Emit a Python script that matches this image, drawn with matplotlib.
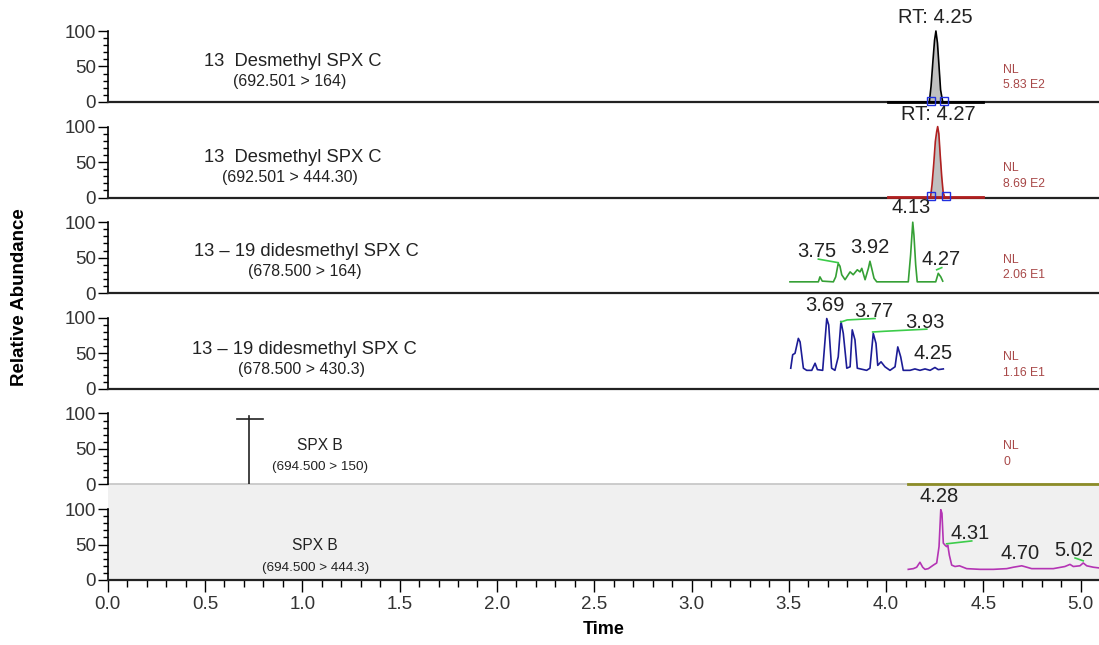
import matplotlib
matplotlib.use("Agg")
import matplotlib.pyplot as plt
from matplotlib.ticker import FixedLocator, MultipleLocator, FormatStrFormatter

plt.rcParams["font.family"] = ["Liberation Sans", "DejaVu Sans"]

# panel texts
titles = ["13  Desmethyl SPX C", "13  Desmethyl SPX C",
          "13 \u2013 19 didesmethyl SPX C", "13 \u2013 19 didesmethyl SPX C",
          "SPX B", "SPX B"]
transitions = ["(692.501 > 164)", "(692.501 > 444.30)", "(678.500 > 164)",
               "(678.500 > 430.3)", "(694.500 > 150)", "(694.500 > 444.3)"]
nl_values = ["5.83 E2", "8.69 E2", "2.06 E1", "1.16 E1", "0", None]

# traces (time in min, relative abundance in %)
t1 = [4.011, 4.222, 4.231, 4.241, 4.249, 4.256, 4.264, 4.272, 4.280, 4.291, 4.50]
a1 = [0, 0, 22, 59, 87, 100, 83, 50, 17, 0, 0]

t2 = [4.011, 4.228, 4.236, 4.245, 4.253, 4.260, 4.265, 4.271, 4.278, 4.286, 4.293, 4.301, 4.50]
a2 = [0, 0, 18, 48, 79, 93, 100, 90, 60, 29, 8, 0, 0]

t3 = [3.506, 3.652, 3.660, 3.672, 3.729, 3.741, 3.754, 3.763, 3.772, 3.789,
      3.815, 3.831, 3.852, 3.866, 3.875, 3.892, 3.909, 3.917, 3.926, 3.938,
      3.952, 4.114, 4.126, 4.137, 4.143, 4.152, 4.160, 4.255, 4.268, 4.281, 4.291]
a3 = [16, 16, 23, 17, 16, 23, 42, 38, 26, 19,
      30, 26, 33, 30, 35, 19, 35, 45, 35, 21,
      16, 16, 54, 100, 82, 40, 16, 16, 28, 23, 17]

t4 = [3.510, 3.520, 3.532, 3.549, 3.558, 3.575, 3.592, 3.618, 3.635, 3.647,
      3.674, 3.695, 3.705, 3.720, 3.737, 3.754, 3.768, 3.780, 3.798, 3.815,
      3.826, 3.840, 3.852, 3.900, 3.917, 3.934, 3.948, 3.957, 3.974, 3.994,
      4.020, 4.046, 4.060, 4.075, 4.088, 4.123, 4.148, 4.174, 4.200, 4.226,
      4.251, 4.268, 4.294]
a4 = [29, 48, 50, 71, 66, 29, 26, 26, 36, 27,
      26, 99, 90, 29, 26, 45, 95, 78, 29, 31,
      83, 69, 29, 26, 29, 78, 64, 33, 38, 31,
      26, 31, 59, 45, 26, 26, 28, 26, 28, 26,
      30, 27, 28]

t5 = [4.113, 5.094]
a5 = [0, 0]
cursor_t = 0.728
cursor_top = 97
cursor_bar = [0.664, 0.798, 92]

t6 = [4.114, 4.140, 4.157, 4.174, 4.188, 4.200, 4.217, 4.243, 4.260, 4.272,
      4.281, 4.287, 4.294, 4.303, 4.311, 4.317, 4.325, 4.337, 4.354, 4.377,
      4.414, 4.483, 4.551, 4.620, 4.654, 4.697, 4.723, 4.748, 4.791, 4.859,
      4.919, 4.945, 4.962, 4.996, 5.013, 5.031, 5.065, 5.094]
a6 = [15, 16, 18, 25, 18, 15, 16, 21, 24, 47,
      99, 94, 52, 49, 47, 49, 35, 21, 19, 20,
      16, 15, 15, 16, 18, 20, 18, 16, 16, 16,
      19, 22, 19, 20, 24, 20, 18, 17]

# peak labels: (text, time, height)
labels = [
    [("RT: 4.25", 4.251, 119)],
    [("RT: 4.27", 4.268, 117)],
    [("3.75", 3.643, 59), ("3.92", 3.914, 64), ("4.13", 4.129, 121), ("4.27", 4.281, 47)],
    [("3.69", 3.687, 118), ("3.77", 3.938, 109), ("3.93", 4.200, 94), ("4.25", 4.239, 50)],
    [],
    [("4.28", 4.273, 118), ("4.31", 4.431, 66), ("4.70", 4.688, 38), ("5.02", 4.962, 41)],
]
leaders = [
    [], [],
    [((3.652, 3.754), (48, 43)), ((4.260, 4.286), (33, 36))],
    [((3.767, 3.800, 3.943), (94, 97, 99)), ((3.931, 3.990, 4.209), (80, 81, 84))],
    [],
    [((4.311, 4.440), (51, 55)), ((4.971, 5.013), (31, 27))],
]
boundary_t = [[4.232, 4.300], [4.231, 4.306]]

traces = [(t1, a1, "black"), (t2, a2, "#b02020"), (t3, a3, "#35a035"),
          (t4, a4, "#1c1c96"), (t5, a5, "#8c8c28"), (t6, a6, "#b434b4")]

W, H = 1099, 645
fig = plt.figure(figsize=(W / 100, H / 100), dpi=100)

x0, x1 = 107.7, 1099
px_per_min = 194.6
panel_h = 95.6
ymax = panel_h / 0.71
axes = []
for i in range(6):
    bottom_px = 102 + panel_h * i
    ax = fig.add_axes([x0 / W, 1 - bottom_px / H, (x1 - x0) / W, panel_h / H])
    ax.set_xlim(0, (x1 - x0) / px_per_min)
    ax.set_ylim(0, ymax)
    ax.patch.set_alpha(0)
    for s in ["top", "right"]:
        ax.spines[s].set_visible(False)
    ax.spines["left"].set_bounds(0, 100)
    ax.spines["left"].set_linewidth(1.2)
    ax.spines["bottom"].set_linewidth(1.6)
    ax.spines["bottom"].set_color("#222222")
    ax.yaxis.set_major_locator(FixedLocator([0, 50, 100]))
    ax.yaxis.set_minor_locator(FixedLocator([v for v in range(10, 100, 10) if v != 50]))
    ax.tick_params(axis="y", which="major", length=7, width=1, pad=1.5,
                   labelsize=13.5, labelcolor="#333333")
    ax.tick_params(axis="y", which="minor", length=3.6, width=1)
    ax.set_xticks([])
    axes.append(ax)

# grey background of last panel
ax6 = axes[5]
ax6.patch.set_alpha(1)
ax6.set_facecolor("#f0f0f0")
ax6.spines["top"].set_visible(True)
ax6.spines["top"].set_color("#c4c4c4")
ax6.spines["top"].set_linewidth(1.2)
axes[4].spines["bottom"].set_visible(False)
axes[4].set_zorder(3)
ax6.xaxis.set_major_locator(MultipleLocator(0.5))
ax6.xaxis.set_minor_locator(MultipleLocator(0.1))
ax6.xaxis.set_major_formatter(FormatStrFormatter("%.1f"))
ax6.tick_params(axis="x", which="major", length=8.6, width=1, pad=3,
                labelsize=13.5, labelcolor="#333333")
ax6.tick_params(axis="x", which="minor", length=5, width=1)
ax6.set_xlabel("Time", fontsize=13, fontweight="bold", labelpad=6)

for i, ax in enumerate(axes):
    t, a, c = traces[i]
    if i < 2:
        ax.fill_between(t, a, color="#c0c0c0", lw=0, zorder=2)
        ax.plot(t, a, color=c, lw=1.2, zorder=3)
        ax.plot([t[0], t[-1]], [0.6, 0.6], color=c, lw=2, zorder=3, clip_on=False)
        ax.plot(boundary_t[i], [1.8, 1.8], ls="none", marker="s", ms=5.5,
                mfc="none", mec="#2030e0", mew=1, zorder=4, clip_on=False)
    elif i == 4:
        ax.plot(t, a, color=c, lw=2, clip_on=False, zorder=5)
        ax.plot([cursor_t, cursor_t], [0, cursor_top], color="#222222", lw=1.2)
        ax.plot(cursor_bar[:2], [cursor_bar[2]] * 2, color="#222222", lw=1.2)
    else:
        ax.plot(t, a, color=c, lw=1.2, zorder=3)
    for lt, la in leaders[i]:
        ax.plot(lt, la, color="#3ccc4a", lw=1.2, zorder=3)
    for txt, lx, ly in labels[i]:
        ax.text(lx, ly, txt, fontsize=14.5, color="#222222", ha="center", va="center",
                clip_on=False)

# titles and transitions
title_pos = [(0.1866, 0.422), (0.1866, 0.422), (0.200, 0.431), (0.198, 0.406),
             (0.214, 0.412), (0.209, 0.366)]
sub_pos = [(0.1839, 0.212), (0.1839, 0.212), (0.199, 0.222), (0.195, 0.197),
           (0.214, 0.185), (0.210, 0.129)]
nl_pos = [(0.335, 0.178), (0.307, 0.142), (0.347, 0.19), (0.33, 0.168), (0.405, 0.237)]
for i, ax in enumerate(axes):
    big = i < 4
    ax.text(*title_pos[i], titles[i], transform=ax.transAxes, ha="center", va="center",
            fontsize=13.2 if big else 11.2, color="#222222")
    ax.text(*sub_pos[i], transitions[i], transform=ax.transAxes, ha="center", va="center",
            fontsize=11.5 if big else 9.7, color="#222222")
    if nl_values[i] is not None:
        ax.text(0.9035, nl_pos[i][0], "NL", transform=ax.transAxes, ha="left", va="center",
                fontsize=8.8, color="#a84848")
        ax.text(0.9035, nl_pos[i][1], nl_values[i], transform=ax.transAxes, ha="left",
                va="center", fontsize=8.8, color="#a84848")

fig.text(20 / W, 1 - 297 / H, "Relative Abundance", rotation=90, ha="center", va="center",
         fontsize=13.5, fontweight="bold")

fig.savefig("out.png", dpi=100)
